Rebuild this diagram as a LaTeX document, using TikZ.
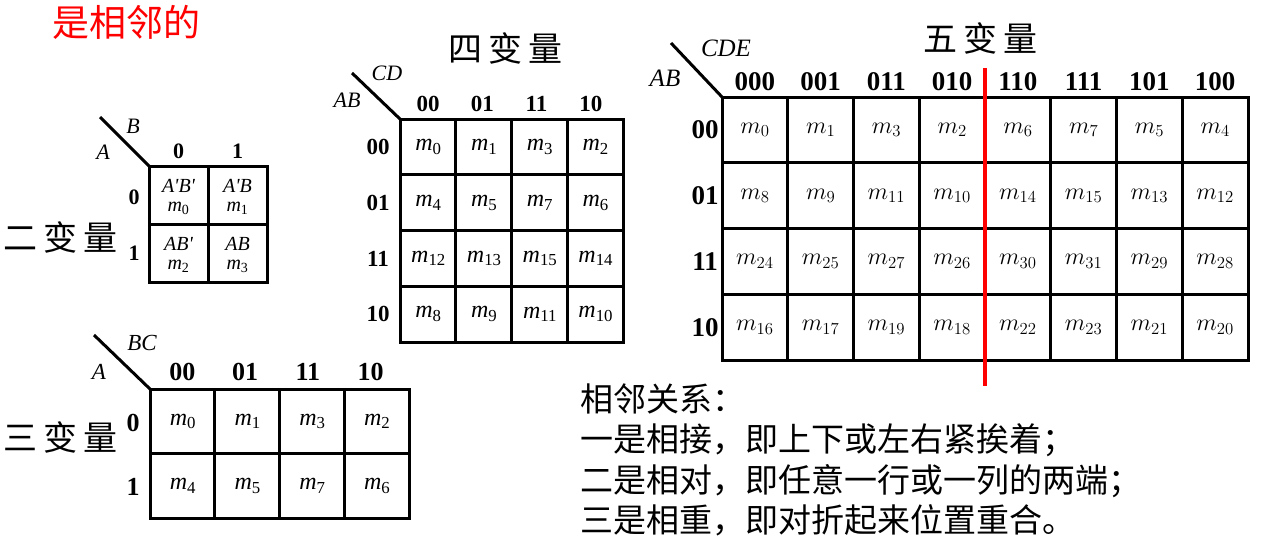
\RequirePackage{fix-cm}
\documentclass[tikz,border=0pt]{standalone}
\usepackage{fontspec}
\setmainfont{Liberation Serif}
\newfontfamily\cjk{Noto Sans CJK SC}
\newfontfamily\cjkwide[LetterSpace=18]{Noto Sans CJK SC}
\definecolor{adjred}{RGB}{255,0,0}
\newcommand{\mt}[1]{{\itshape m}\textsubscript{\upshape #1}}
\newcommand{\pr}{\textquotesingle}
\tikzset{
  kline/.style={line width=3pt},
  hdr/.style={inner sep=0pt,font=\fontsize{#1}{#1}\selectfont\bfseries},
  hdr/.default=24,
  varlab/.style={inner sep=0pt,font=\fontsize{#1}{#1}\selectfont\itshape},
  varlab/.default=22,
  cell/.style={inner sep=0pt,font=\fontsize{#1}{#1}\selectfont},
  cell/.default=24,
  pair/.style={inner sep=0pt,align=center,font=\fontsize{20}{19.5}\selectfont\itshape},
  title/.style={inner sep=0pt,anchor=west,font=\fontsize{34}{34}\selectfont\cjkwide},
}
\begin{document}
\begin{tikzpicture}[x=1pt,y=-1pt]
    \useasboundingbox (0,0) rectangle (1276,549);
    % title
    \node[inner sep=0pt,text=adjred,font=\fontsize{37}{37}\selectfont\cjk] (adj) at (126,22) {是相邻的};

    % two variables
    \coordinate (k2o) at (149,166);
    \coordinate (k2tip) at (100,117);
    \draw[kline] (k2o) rectangle (267,282);
    \draw[kline] (208,166) -- (208,282);
    \draw[kline] (149,224) -- (267,224);
    \draw[kline] (k2tip) -- (k2o);
    \node[varlab] (k2B) at (133,126) {B};
    \node[varlab] (k2A) at (103,152) {A};
    \node[hdr=22] (k2c0) at (178.5,151) {0};
    \node[hdr=22] (k2c1) at (237.5,151) {1};
    \node[hdr=22] (k2r0) at (134,197) {0};
    \node[hdr=22] (k2r1) at (134,253) {1};
    \node[pair] (k2m0) at (178.5,197) {A\pr B\pr\\\mt{0}};
    \node[pair] (k2m1) at (237.5,197) {A\pr B\\\mt{1}};
    \node[pair] (k2m2) at (178.5,255) {AB\pr\\\mt{2}};
    \node[pair] (k2m3) at (237.5,255) {AB\\\mt{3}};
    \node[title] (k2name) at (3,237) {二变量};

    % three variables
    \coordinate (k3o) at (150,389);
    \coordinate (k3tip) at (94,335);
    \draw[kline] (k3o) rectangle (409,518);
    \foreach \k in {1,2,3}
        \draw[kline] ({150+64.75*\k},389) -- ({150+64.75*\k},518);
    \draw[kline] (150,453.5) -- (409,453.5);
    \draw[kline] (k3tip) -- (k3o);
    \node[varlab=23] (k3BC) at (142,343) {BC};
    \node[varlab=23] (k3A) at (99,372) {A};
    \foreach \t [count=\i from 0] in {00,01,11,10}
        \node[hdr=26] (k3c\i) at ({182.4+64.75*\i-2*\i},372) {\t};
    \node[hdr=26] (k3r0) at (133,423) {0};
    \node[hdr=26] (k3r1) at (133,487) {1};
    \foreach \r in {0,1}
        \foreach \c [count=\ci from 0] in {0,1,3,2} {
            \pgfmathtruncatemacro{\idx}{4*\r+\c}
            \node[cell] (k3m\idx) at ({183+64.75*\ci},{421.25+64.5*\r}) {\mt{\idx}};
        }
    \node[title] (k3name) at (3,437) {三变量};

    % four variables
    \coordinate (k4o) at (400,119);
    \coordinate (k4tip) at (352,73);
    \draw[kline] (k4o) rectangle (623,342);
    \foreach \k in {1,2,3} {
        \draw[kline] ({400+55.75*\k},119) -- ({400+55.75*\k},342);
        \draw[kline] (400,{119+55.75*\k}) -- (623,{119+55.75*\k});
    }
    \draw[kline] (k4tip) -- (k4o);
    \node[varlab] (k4CD) at (387,73) {CD};
    \node[varlab] (k4AB) at (347,100) {AB};
    \foreach \t [count=\i from 0] in {00,01,11,10} {
        \node[hdr=23] (k4c\i) at ({428+55.75*\i-1.5*\i},104) {\t};
        \node[hdr=23] (k4r\i) at (378,{147+55.75*\i}) {\t};
    }
    \foreach \r [count=\ri from 0] in {0,1,3,2}
        \foreach \c [count=\ci from 0] in {0,1,3,2} {
            \pgfmathtruncatemacro{\idx}{4*\r+\c}
            \node[cell] (k4m\idx) at ({428.5+55.75*\ci},{146.9+55.75*\ri}) {\mt{\idx}};
        }
    \node[title] (k4name) at (448,48) {四变量};

    % five variables
    \coordinate (k5o) at (722,97);
    \coordinate (k5tip) at (671,43);
    \draw[kline] (k5o) rectangle (1248,360);
    \foreach \k in {1,...,7}
        \draw[kline] ({722+65.75*\k},97) -- ({722+65.75*\k},360);
    \foreach \k in {1,2,3}
        \draw[kline] (722,{97+65.75*\k}) -- (1248,{97+65.75*\k});
    \draw[kline] (k5tip) -- (k5o);
    \node[varlab=25] (k5CDE) at (726,48) {CDE};
    \node[varlab=25] (k5AB) at (665,78) {AB};
    \foreach \t [count=\i from 0] in {000,001,011,010,110,111,101,100}
        \node[hdr=27] (k5c\i) at ({754.9+65.75*\i},82) {\t};
    \foreach \t [count=\i from 0] in {00,01,11,10}
        \node[hdr=27] (k5r\i) at (705,{130+65.75*\i}) {\t};
    \foreach \r [count=\ri from 0] in {0,1,3,2}
        \foreach \c [count=\ci from 0] in {0,1,3,2,6,7,5,4} {
            \pgfmathtruncatemacro{\idx}{8*\r+\c}
            \node[cell=24] (k5m\idx) at ({754.9+65.75*\ci},{129.9+65.75*\ri}) {$m_{\idx}$};
        }
    \node[title] (k5name) at (923,38) {五变量};
    % fold line
    \coordinate (foldtop) at (985,68);
    \coordinate (foldbot) at (985,386);
    \draw[adjred, line width=4.5pt] (foldtop) -- (foldbot);

    % adjacency rules
    \node[inner sep=0pt, anchor=base west, font=\fontsize{33}{33}\selectfont\cjk] (rel1) at (580,411) {相邻关系：};
    \node[inner sep=0pt, anchor=base west, font=\fontsize{33}{33}\selectfont\cjk] (rel2) at (580,451) {一是相接，即上下或左右紧挨着；};
    \node[inner sep=0pt, anchor=base west, font=\fontsize{33}{33}\selectfont\cjk] (rel3) at (580,492) {二是相对，即任意一行或一列的两端；};
    \node[inner sep=0pt, anchor=base west, font=\fontsize{33}{33}\selectfont\cjk] (rel4) at (580,532) {三是相重，即对折起来位置重合。};
\end{tikzpicture}
\end{document}
